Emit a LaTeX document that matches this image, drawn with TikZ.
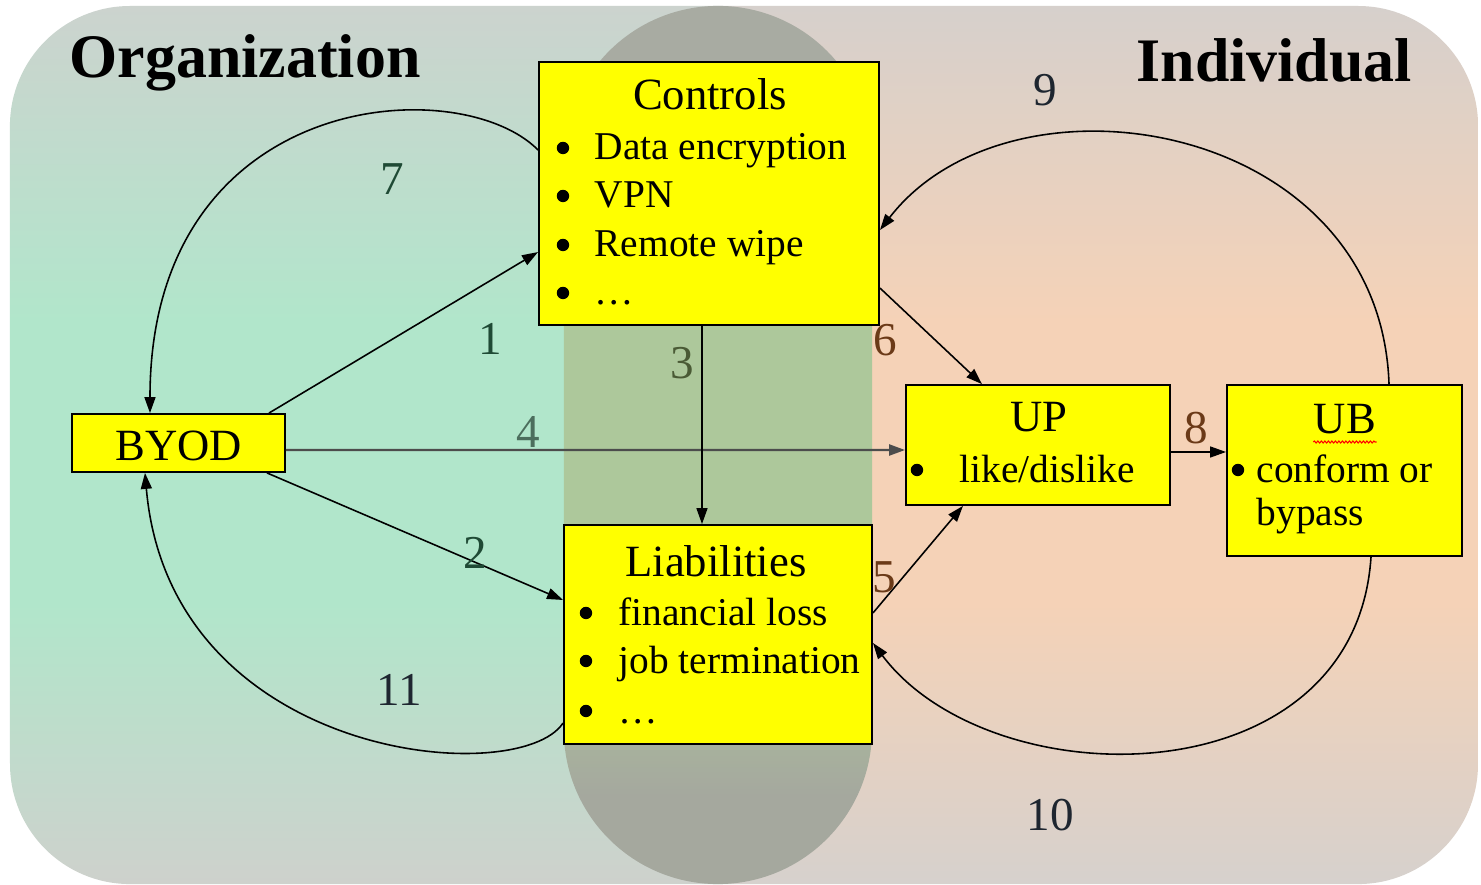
\documentclass[tikz,border=0pt]{standalone}
\usepackage{fontspec}
\setmainfont{Liberation Serif}
\usepackage{xcolor}
\usetikzlibrary{positioning, arrows.meta, decorations.pathmorphing}

\definecolor{boxyellow}{HTML}{FFFF00}
\definecolor{orgtop}{HTML}{CCD3CE}
\definecolor{orgmid}{HTML}{B1E6CB}
\definecolor{orgbot}{HTML}{CED1CC}
\definecolor{indtop}{HTML}{D6D0CC}
\definecolor{indmid}{HTML}{F5D2B7}
\definecolor{indbot}{HTML}{D6D1CD}
\definecolor{pilltop}{HTML}{A8ABA2}
\definecolor{pillmid}{HTML}{ADC89B}
\definecolor{pillbot}{HTML}{A5A89E}
\definecolor{numgreen}{HTML}{1F4A35}
\definecolor{numolive}{HTML}{4A5A35}
\definecolor{numbrown}{HTML}{6B3A18}
\definecolor{numdark}{HTML}{1E2630}

% the path box is mapped onto 25bp..75bp
\pgfdeclareverticalshading{orgshade}{100bp}{color(0bp)=(orgbot); color(25bp)=(orgbot); color(41bp)=(orgmid); color(57bp)=(orgmid); color(75bp)=(orgtop); color(100bp)=(orgtop)}
\pgfdeclareverticalshading{indshade}{100bp}{color(0bp)=(indbot); color(25bp)=(indbot); color(41bp)=(indmid); color(57bp)=(indmid); color(75bp)=(indtop); color(100bp)=(indtop)}
\pgfdeclareverticalshading{pillshade}{100bp}{color(0bp)=(pillbot); color(30bp)=(pillbot); color(40bp)=(pillmid); color(58bp)=(pillmid); color(66bp)=(pilltop); color(100bp)=(pilltop)}

\begin{document}
\begin{tikzpicture}[
        x=0.01cm, y=-0.01cm,
        box/.style={draw, fill=boxyellow, line width=0.5pt, inner sep=0pt},
        head/.style={inner sep=0pt, anchor=base west, font=\fontsize{17.6}{20}\selectfont\bfseries},
        title/.style={inner sep=0pt, anchor=base, font=\fontsize{12.7}{15}\selectfont},
        item/.style={inner sep=0pt, anchor=base west, font=\fontsize{11.2}{13}\selectfont},
        num/.style={inner sep=0pt, font=\fontsize{13.4}{16}\selectfont},
        arrow/.style={-{Triangle[length=1.6mm, width=1.1mm]}, line width=0.45pt},
        spell/.style={red, line width=0.3pt, decorate, decoration={snake, amplitude=0.1mm, segment length=0.35mm}}
    ]
        \useasboundingbox (0,0) rectangle (1481,885);
        \fill[white] (0,0) rectangle (1481,885);

        % Regions
        \shade[shading=orgshade]
            (718,6) -- (130,6) arc[start angle=90, end angle=180, radius=1.2cm]
            -- (10,764) arc[start angle=180, end angle=270, radius=1.2cm] -- (718,884) -- cycle;
        \shade[shading=indshade]
            (718,6) -- (1358,6) arc[start angle=90, end angle=0, radius=1.2cm]
            -- (1478,764) arc[start angle=0, end angle=-90, radius=1.2cm] -- (718,884) -- cycle;
        \shade[shading=pillshade]
            (564,160) arc[start angle=180, end angle=0, radius=1.54cm]
            -- (872,730) arc[start angle=0, end angle=-180, radius=1.54cm] -- cycle;

        \node[head] (org) at (69,78) {Organization};
        \node[head] (ind) at (1136,82) {Individual};

        % Nodes
        \node[box, minimum width=3.40cm, minimum height=2.63cm] (controls) at (709,193.5) {};
        \node[title] (controlsT) at (710,110) {Controls};
        \node[item] (ctrlA) at (594,160) {Data encryption};
        \node[item] (ctrlB) at (594,208) {VPN};
        \node[item] (ctrlC) at (594,257) {Remote wipe};
        \node[item] (ctrlD) at (594,305) {\dots};

        \node[box, minimum width=2.13cm, minimum height=0.58cm] (byod) at (178.5,443) {};
        \node[title] (byodT) at (178.5,460) {BYOD};

        \node[box, minimum width=3.08cm, minimum height=2.19cm] (liab) at (718,634.5) {};
        \node[title] (liabT) at (716,576) {Liabilities};
        \node[item] (liabA) at (618,625) {financial loss};
        \node[item] (liabB) at (618,673) {job termination};
        \node[item] (liabC) at (618,723) {\dots};

        \node[box, minimum width=2.64cm, minimum height=1.20cm] (up) at (1038,445) {};
        \node[title] (upT) at (1039,432) {UP};
        \node[item] (upA) at (959,482) {like/dislike};

        \node[box, minimum width=2.35cm, minimum height=1.71cm] (ub) at (1344.5,470.5) {};
        \node[title] (ubT) at (1345,433) {UB};
        \node[item] (ubA) at (1256,482) {conform or};
        \node[item] (ubB) at (1256,525) {bypass};
        \draw[spell] ([yshift=-0.09cm]ubT.base west) -- ([yshift=-0.09cm]ubT.base east);

        % Bullets
        \foreach \itm/\dx in {ctrlA/0.31, ctrlB/0.31, ctrlC/0.31, ctrlD/0.31,
                              liabA/0.32, liabB/0.32, liabC/0.32, upA/0.42, ubA/0.18}
            \fill ([xshift=-\dx cm, yshift=0.12cm]\itm.base west) circle[radius=0.062cm];

        % Paths
        \draw[arrow] ([xshift=-0.17cm]byod.north east) -- ([yshift=-0.585cm]controls.west);
        \draw[arrow] ([xshift=-0.19cm]byod.south east) -- ([yshift=0.345cm]liab.west);
        \draw[arrow, line width=0.7pt, black!70] ([yshift=-0.07cm]byod.east) -- ([yshift=-0.05cm]up.west);
        \draw[arrow] ([xshift=-0.07cm]controls.south) -- ([xshift=-0.16cm]liab.north);
        \draw[arrow] ([yshift=-0.945cm]controls.east) -- ([xshift=-0.56cm]up.north);
        \draw[arrow] ([yshift=0.215cm]liab.east) -- ([xshift=-0.75cm]up.south);
        \draw[arrow] ([yshift=-0.07cm]up.east) -- ([yshift=0.185cm]ub.west);

        % Feedback loops
        \draw[arrow] ([yshift=0.435cm]controls.west) .. controls +(-79,-80) and +(0,-324) .. ([xshift=-0.285cm]byod.north);
        \draw[arrow] ([yshift=-0.885cm]liab.west) .. controls +(-44,67) and +(25,288) .. ([xshift=-0.335cm]byod.south);
        \draw[arrow] ([xshift=0.445cm]ub.north) .. controls +(-9,-265) and +(131,-170) .. ([yshift=-0.365cm]controls.east);
        \draw[arrow] ([xshift=0.265cm]ub.south) .. controls +(-16,244) and +(118,157) .. ([yshift=-0.085cm]liab.east);

        % Labels
        \node[num, numgreen] (n1) at (490,339) {1};
        \node[num, numgreen] (n2) at (475,553) {2};
        \node[num, numolive] (n3) at (682,363) {3};
        \node[num, numgreen!80!white] (n4) at (528,432) {4};
        \node[num, numbrown] (n5) at (884,577) {5};
        \node[num, numbrown] (n6) at (885,340) {6};
        \node[num, numgreen] (n7) at (392,179) {7};
        \node[num, numbrown] (n8) at (1196,428) {8};
        \node[num, numdark] (n9) at (1045,90) {9};
        \node[num, numdark] (n10) at (1050,815) {10};
        \node[num, numdark] (n11) at (399,690) {11};

    \end{tikzpicture}
\end{document}
